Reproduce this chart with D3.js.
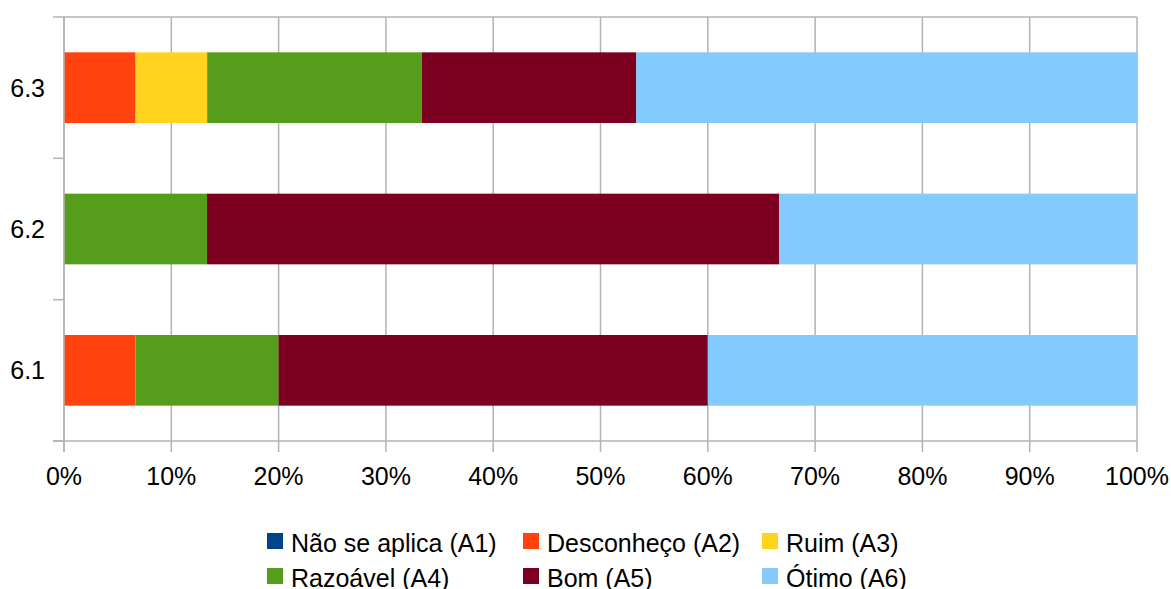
<!DOCTYPE html>
<html><head><meta charset="utf-8">
<script src="https://cdn.jsdelivr.net/npm/d3@7"></script>
<style>body{margin:0;background:#fff}svg{display:block}text{font-family:"Liberation Sans",Arial,sans-serif;fill:#000}</style>
</head><body>
<svg id="c" width="1171" height="589"></svg>
<script>
const categories = ["6.3","6.2","6.1"];
const seriesNames = ["Não se aplica (A1)","Desconheço (A2)","Ruim (A3)","Razoável (A4)","Bom (A5)","Ótimo (A6)"];
const seriesColors = ["#004586","#ff420e","#ffd320","#579d1c","#7e0021","#83caff"];
const A1 = [0, 0, 0];
const A2 = [6.67, 0, 6.67];
const A3 = [6.67, 0, 0];
const A4 = [20, 13.33, 13.33];
const A5 = [20, 53.33, 40];
const A6 = [46.67, 33.33, 40];
const xTicks = [0,10,20,30,40,50,60,70,80,90,100];

const series = [A1,A2,A3,A4,A5,A6];
const svg = d3.select("#c");
const L=64, R=1137, T=17, B=441;
const x = d3.scaleLinear().domain([0,100]).range([L,R]);
const y = d3.scaleBand().domain(categories).range([T,B]).paddingInner(0.5).paddingOuter(0.25);
const grid = "#b3b3b3";
const FS = 25;

svg.append("g").selectAll("line").data(xTicks).join("line")
  .attr("x1",d=>x(d)).attr("x2",d=>x(d)).attr("y1",T).attr("y2",B+11)
  .attr("stroke",grid).attr("stroke-width",1.5);
svg.append("line").attr("x1",L).attr("x2",R).attr("y1",T).attr("y2",T).attr("stroke",grid).attr("stroke-width",1.5);

const stackData = categories.map((c,i)=>{const o={cat:c}; seriesNames.forEach((s,j)=>o[s]=series[j][i]); return o;});
const stacked = d3.stack().keys(seriesNames)(stackData);
svg.append("g").selectAll("g").data(stacked).join("g")
  .attr("fill",(d,i)=>seriesColors[i])
  .selectAll("rect").data(d=>d).join("rect")
  .attr("x",d=>x(d[0])).attr("width",d=>x(d[1])-x(d[0]))
  .attr("y",d=>y(d.data.cat)).attr("height",y.bandwidth());

svg.append("line").attr("x1",L-11).attr("x2",R).attr("y1",B).attr("y2",B).attr("stroke",grid).attr("stroke-width",1.5);
svg.append("line").attr("x1",L).attr("x2",L).attr("y1",T).attr("y2",B+11).attr("stroke",grid).attr("stroke-width",1.5);
const step = y.step();
const bounds = [T, T+step, T+2*step, B];
svg.append("g").selectAll("line").data(bounds).join("line")
  .attr("x1",L-11).attr("x2",L).attr("y1",d=>d).attr("y2",d=>d).attr("stroke",grid).attr("stroke-width",1.5);

svg.append("g").selectAll("text").data(categories).join("text")
  .attr("x",45).attr("y",d=>y(d)+y.bandwidth()/2+9)
  .attr("text-anchor","end").attr("font-size",FS).text(d=>d);
svg.append("g").selectAll("text").data(xTicks).join("text")
  .attr("x",d=>x(d)).attr("y",485).attr("text-anchor","middle").attr("font-size",FS).text(d=>d+"%");

const legPos = [[267,552],[523,552],[762,552],[267,587],[523,587],[762,587]];
const lg = svg.append("g").selectAll("g").data(seriesNames).join("g")
  .attr("transform",(d,i)=>`translate(${legPos[i][0]},${legPos[i][1]})`);
lg.append("rect").attr("x",0).attr("y",-19).attr("width",16).attr("height",16).attr("fill",(d,i)=>seriesColors[i]);
lg.append("text").attr("x",24).attr("y",0).attr("font-size",FS).text(d=>d);
</script>
</body></html>
